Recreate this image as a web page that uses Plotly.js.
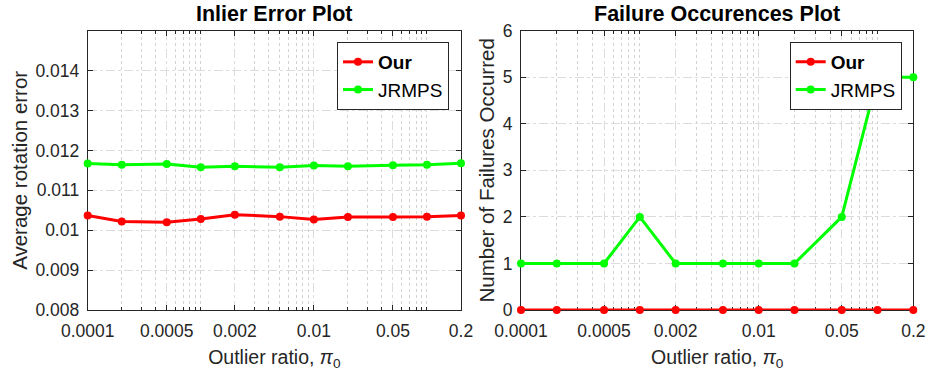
<!DOCTYPE html>
<html>
<head>
<meta charset="utf-8">
<script src="https://cdn.plot.ly/plotly-3.0.1.min.js"></script>
<style>html,body{margin:0;padding:0;background:#fff;}#chart{width:928px;height:377px;}</style>
</head>
<body>
<div id="chart"></div>
<script>
// ---- data ----
const outlierRatio = [0.0001, 0.0002, 0.0005, 0.001, 0.002, 0.005, 0.01, 0.02, 0.05, 0.1, 0.2];
const errorOur    = [0.01037, 0.01022, 0.01020, 0.01028, 0.01039, 0.01034, 0.01027, 0.01033, 0.01033, 0.01034, 0.01037];
const errorJRMPS  = [0.01167, 0.01164, 0.01166, 0.01158, 0.01160, 0.01158, 0.01162, 0.01160, 0.01163, 0.01164, 0.01168];
const failOur     = [0, 0, 0, 0, 0, 0, 0, 0, 0, 0, 0];
const failJRMPS   = [1, 1, 1, 2, 1, 1, 1, 1, 2, 5, 5];
const seriesNames = ['<b>Our</b>', 'JRMPS'];
const xTickVals   = [0.0001, 0.0005, 0.002, 0.01, 0.05, 0.2];
const xTickText   = ['0.0001', '0.0005', '0.002', '0.01', '0.05', '0.2'];
const errTickVals = [0.008, 0.009, 0.010, 0.011, 0.012, 0.013, 0.014];
const errTickText = ['0.008', '0.009', '0.01', '0.011', '0.012', '0.013', '0.014'];
const failTickVals = [0, 1, 2, 3, 4, 5, 6];

// minor log grid positions (1..9 x 10^k), excluding major ticks
const minorVals = [];
for (let k = -4; k <= -1; k++) {
  for (let m = 1; m <= 9; m++) {
    const v = +(m * Math.pow(10, k)).toPrecision(3);
    if (v <= 0.2 && xTickVals.indexOf(v) < 0) minorVals.push(v);
  }
}

const RED = '#ff0000', GREEN = '#00ff00';
const FONT = '"Liberation Sans", Arial, Helvetica, sans-serif';
const W = 928, H = 377;

function tr(x, y, name, color, xa, ya, leg) {
  return {
    x: x, y: y, name: name, type: 'scatter', mode: 'lines+markers',
    xaxis: xa, yaxis: ya, legend: leg, cliponaxis: false,
    line: {color: color, width: 3},
    marker: {color: color, size: 8, symbol: 'circle'}
  };
}

const data = [
  tr(outlierRatio, errorOur, seriesNames[0], RED, 'x', 'y', 'legend'),
  tr(outlierRatio, errorJRMPS, seriesNames[1], GREEN, 'x', 'y', 'legend'),
  tr(outlierRatio, failOur, seriesNames[0], RED, 'x2', 'y2', 'legend2'),
  tr(outlierRatio, failJRMPS, seriesNames[1], GREEN, 'x2', 'y2', 'legend2')
];

function xAxis(domain, anchor) {
  return {
    type: 'log', domain: domain, anchor: anchor,
    range: [Math.log10(0.0001), Math.log10(0.2)],
    tickmode: 'array', tickvals: xTickVals, ticktext: xTickText,
    ticks: 'inside', ticklen: 5, tickwidth: 1, tickcolor: '#262626',
    mirror: 'ticks', showline: true, linecolor: '#262626', linewidth: 1,
    showgrid: true, gridcolor: '#dcdcdc', griddash: 'dashdot', gridwidth: 1,
    zeroline: false, layer: 'below traces',
    tickfont: {family: FONT, size: 17.5, color: '#262626'},
    ticklabelstandoff: 5,
    minor: {tickmode: 'array', tickvals: minorVals, ticks: 'inside', ticklen: 3,
            tickcolor: '#262626', showgrid: true, gridcolor: '#d2d2d2', griddash: 'dot', gridwidth: 1},
    title: {text: 'Outlier ratio, <i>π</i><sub>0</sub>', font: {family: FONT, size: 19.5, color: '#262626'}, standoff: 10}
  };
}

function yAxis(domain, anchor, range, tv, tt, title, standoff) {
  return {
    domain: domain, anchor: anchor, range: range,
    tickmode: 'array', tickvals: tv, ticktext: tt,
    ticks: 'inside', ticklen: 5, tickwidth: 1, tickcolor: '#262626',
    mirror: 'ticks', showline: true, linecolor: '#262626', linewidth: 1,
    showgrid: true, gridcolor: '#dcdcdc', griddash: 'dashdot', gridwidth: 1,
    zeroline: false, layer: 'below traces',
    tickfont: {family: FONT, size: 17.5, color: '#262626'},
    ticklabelstandoff: 4,
    title: {text: title, font: {family: FONT, size: 20.5, color: '#262626'}, standoff: standoff}
  };
}

const yDom = [1 - 310 / H, 1 - 30.7 / H];

const layout = {
  width: W, height: H,
  margin: {l: 0, r: 0, t: 0, b: 0},
  paper_bgcolor: '#ffffff', plot_bgcolor: '#ffffff',
  font: {family: FONT, color: '#262626'},
  showlegend: true,
  xaxis: xAxis([87.7 / W, 461 / W], 'y'),
  yaxis: yAxis(yDom, 'x', [0.008, 0.015], errTickVals, errTickText, 'Average rotation error', 2),
  xaxis2: xAxis([521 / W, 913.3 / W], 'y2'),
  yaxis2: yAxis(yDom, 'x2', [0, 6], failTickVals, failTickVals.map(String), 'Number of Failures Occurred', 2),
  legend: {
    x: 449 / W, xanchor: 'right', y: 1 - 42 / H, yanchor: 'top',
    bgcolor: '#ffffff', bordercolor: '#262626', borderwidth: 1,
    font: {family: FONT, size: 19, color: '#000'}, tracegroupgap: 0, itemwidth: 30
  },
  legend2: {
    x: 901.7 / W, xanchor: 'right', y: 1 - 42 / H, yanchor: 'top',
    bgcolor: '#ffffff', bordercolor: '#262626', borderwidth: 1,
    font: {family: FONT, size: 19, color: '#000'}, tracegroupgap: 0, itemwidth: 30
  },
  annotations: [
    {text: '<b>Inlier Error Plot</b>', xref: 'paper', yref: 'paper', x: (87.7 + 461) / 2 / W, y: 1 - 13.5 / H,
     xanchor: 'center', yanchor: 'middle', showarrow: false, font: {family: FONT, size: 21.5, color: '#000'}},
    {text: '<b>Failure Occurences Plot</b>', xref: 'paper', yref: 'paper', x: (521 + 913.3) / 2 / W, y: 1 - 13.5 / H,
     xanchor: 'center', yanchor: 'middle', showarrow: false, font: {family: FONT, size: 21.5, color: '#000'}}
  ]
};

Plotly.newPlot('chart', data, layout, {displayModeBar: false, staticPlot: true});
</script>
</body>
</html>
